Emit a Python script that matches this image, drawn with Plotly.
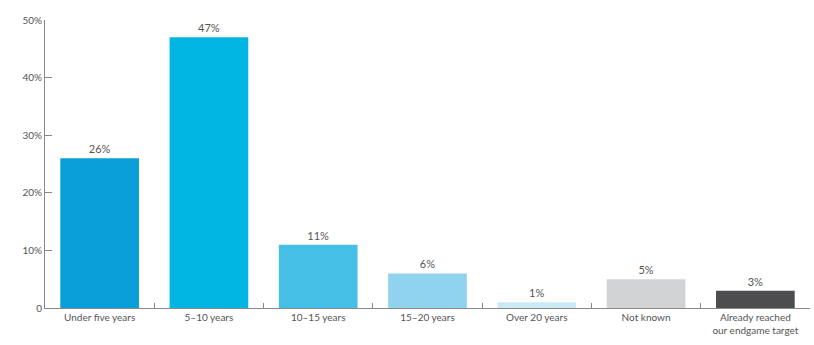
import plotly.graph_objects as go

categories = ["Under five years", "5–10 years", "10–15 years", "15–20 years",
              "Over 20 years", "Not known", "Already reached<br>our endgame target"]
values = [26, 47, 11, 6, 1, 5, 3]
labels = ["26%", "47%", "11%", "6%", "1%", "5%", "3%"]
colors = ["#0a9fd8", "#00b5e2", "#45bfe6", "#8fd3ef", "#cce9f6", "#d2d3d4", "#4d4d4f"]
y_ticks = [0, 10, 20, 30, 40, 50]
y_ticktext = ["0", "10%", "20%", "30%", "40%", "50%"]

fig = go.Figure(go.Bar(
    x=categories, y=values, marker_color=colors, marker_line_width=0,
    text=labels, textposition="outside",
    textfont=dict(size=11, color="#555555"), cliponaxis=False,
))
fig.update_layout(
    width=814, height=345, margin=dict(l=45, r=4, t=20, b=37),
    plot_bgcolor="white", paper_bgcolor="white",
    font=dict(family="Lato, Open Sans, sans-serif", size=10, color="#555555"),
    bargap=0.28, showlegend=False,
)
fig.update_xaxes(showline=True, linecolor="#888888", linewidth=1,
                 ticks="inside", tickson="boundaries", ticklen=5, tickcolor="#888888",
                 tickfont=dict(size=10, color="#555555"), showgrid=False)
fig.update_yaxes(range=[0, 50], tickvals=y_ticks, ticktext=y_ticktext,
                 showline=True, linecolor="#888888", linewidth=1,
                 ticks="inside", ticklen=7, tickcolor="#888888",
                 tickfont=dict(size=10, color="#555555"), showgrid=False, zeroline=False)
fig.write_html("out.html")
